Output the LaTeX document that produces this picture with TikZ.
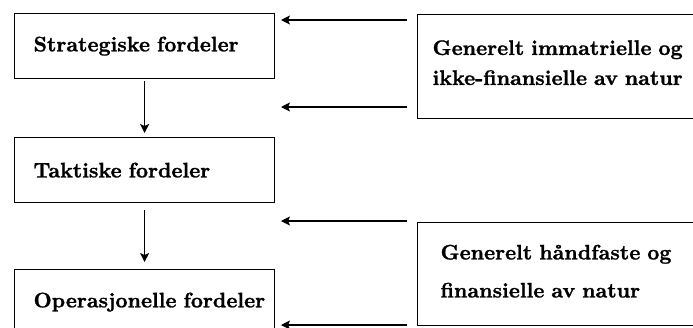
\documentclass[tikz,border=0pt]{standalone}
\usepackage{fontspec}
\setmainfont{lmroman10-regular.otf}[BoldFont=lmroman10-bold.otf, BoldFeatures={FakeBold=1.2}]
\usetikzlibrary{arrows.meta}
\newcommand{\lowpad}[1]{\rule[-#1]{0pt}{#1}}
\begin{document}
\begin{tikzpicture}[x=1pt,y=-1pt,
  box/.style={draw, line width=1.2pt, font=\bfseries\fontsize{21}{30}\selectfont,
    align=left, anchor=north west, inner ysep=0pt},
  levelbox/.style={box, minimum height=65pt, text width=222pt, inner xsep=19pt},
  flow/.style={line width=1.1pt, -{Stealth[length=9pt,width=9pt,inset=2pt]}}]
\useasboundingbox (0,0) rectangle (693,327);
\clip (0,0) rectangle (693,327);

% benefit levels
\node[levelbox] (strat) at (14,13)  {\mbox{Strategiske fordeler}};
\node[levelbox] (takt)  at (14,137) {\mbox{Taktiske fordeler}};
\node[levelbox] (oper)  at (14,269) {\mbox{Operasjonelle fordeler}};

% character of the benefits
\node[box, minimum height=104pt, text width=290pt, inner xsep=15pt] (immat) at (417,14)
  {\mbox{Generelt immatrielle og}\\\mbox{ikke-finansielle av natur}\lowpad{8pt}};
\node[box, minimum height=103pt, text width=290pt, inner xsep=23pt,
      font=\bfseries\fontsize{21}{38}\selectfont] (handf) at (417,222)
  {\mbox{Generelt håndfaste og}\\\mbox{finansielle av natur}\lowpad{6pt}};

% downward flow between levels
\draw[flow, shorten <=2pt, shorten >=4pt] (strat) -- (takt);
\draw[flow, shorten <=7pt, shorten >=7pt] (takt) -- (oper);

% inputs from the right
\coordinate (i1s) at (407,20);  \coordinate (i1e) at (281,20);
\coordinate (i2s) at (407,107); \coordinate (i2e) at (281,107);
\coordinate (i3s) at (407,221); \coordinate (i3e) at (281,221);
\coordinate (i4s) at (407,325); \coordinate (i4e) at (281,325);
\draw[flow] (i1s) -- (i1e);
\draw[flow] (i2s) -- (i2e);
\draw[flow] (i3s) -- (i3e);
\draw[flow] (i4s) -- (i4e);
\end{tikzpicture}
\end{document}
